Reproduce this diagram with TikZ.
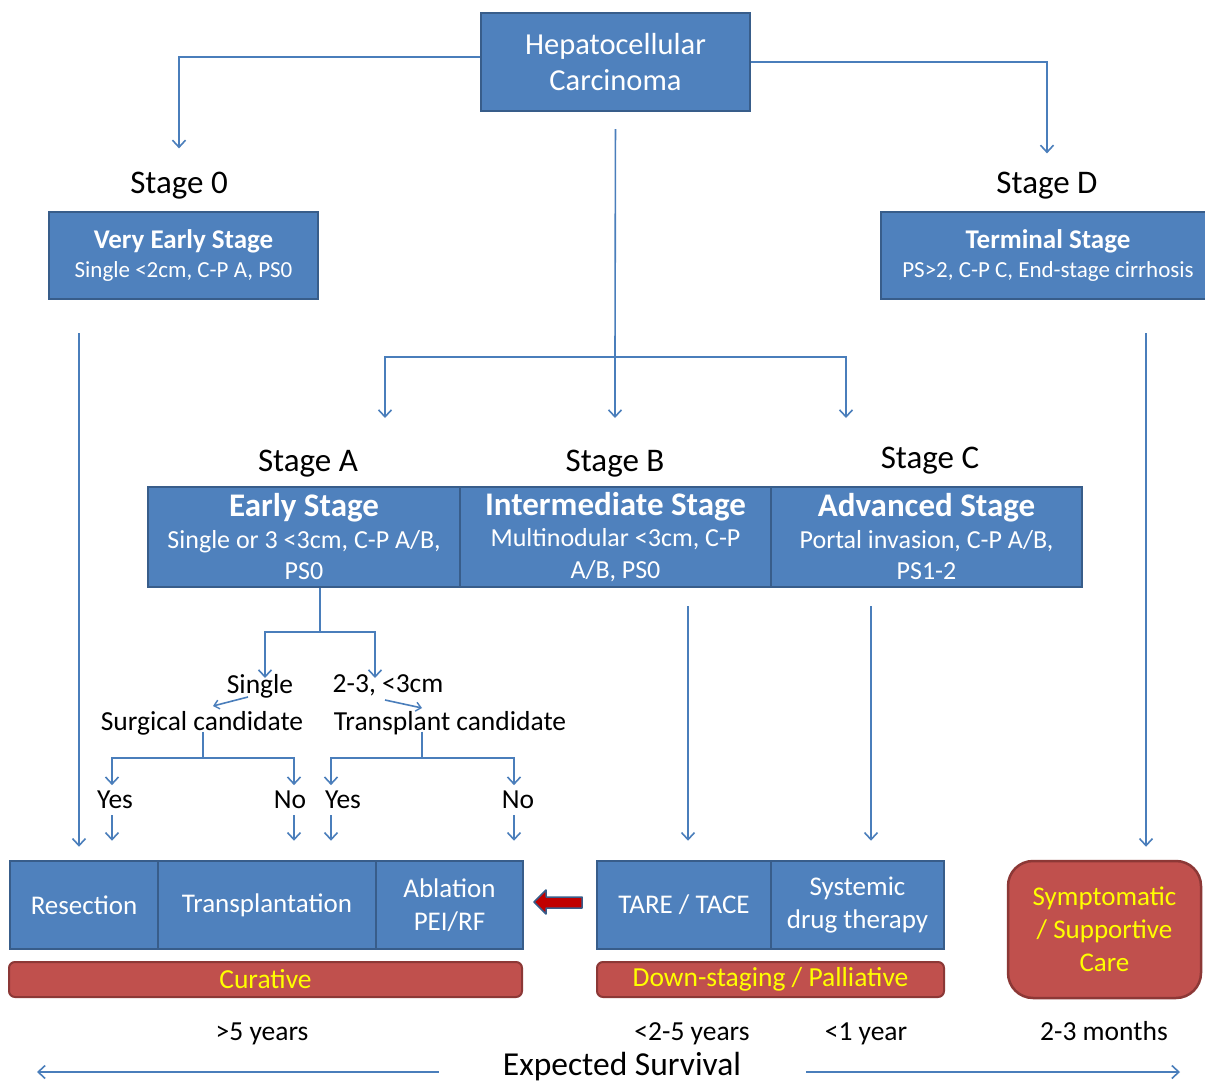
\documentclass[tikz,border=0pt]{standalone}
\usepackage{fontspec}
\setmainfont{Carlito}
\usetikzlibrary{arrows.meta,calc}
\definecolor{boxblue}{HTML}{4F81BD}
\definecolor{boxedge}{HTML}{385D8A}
\definecolor{linkblue}{HTML}{4A7EBB}
\definecolor{redfill}{HTML}{C0504D}
\definecolor{rededge}{HTML}{8C3836}
\definecolor{darkred}{HTML}{C00000}
\definecolor{yel}{HTML}{FFFF00}
\begin{document}
\begin{tikzpicture}[x=1pt,y=-1pt,
  bluebox/.style={draw=boxedge, fill=boxblue, line width=2.5pt, text=white, align=center, inner sep=0pt},
  redbar/.style={draw=rededge, fill=redfill, line width=2pt, text=yel, align=center, inner sep=0pt, rounded corners=6pt, font=\fontsize{27.5}{30}\selectfont},
  wire/.style={draw=linkblue, line width=1.6pt},
  conn/.style={wire, -{Straight Barb[length=7pt,width=13pt,line width=1.6pt]}},
  smallconn/.style={wire, -{Straight Barb[length=5pt,width=9pt,line width=1.4pt]}},
  lab/.style={anchor=base, inner sep=0pt, font=\fontsize{33}{38}\selectfont},
  sublab/.style={anchor=base, inner sep=0pt, font=\fontsize{27.5}{32}\selectfont}
]
\useasboundingbox (0,0) rectangle (1205,1083);
\fill[white] (0,0) rectangle (1205,1083);

% top
\node[bluebox, minimum width=269pt, minimum height=98pt, font=\fontsize{30.5}{36}\selectfont] (hcc) at (615.5,62) {Hepatocellular\\Carcinoma};

\node[lab] (s0lab) at (179,194) {Stage 0};
\node[lab] (sDlab) at (1047,194) {Stage D};

\node[bluebox, minimum width=269pt, minimum height=87pt, font=\fontsize{23}{29}\selectfont] (s0) at (183.5,255.5)
  {{\bfseries\fontsize{27}{29}\selectfont Very Early Stage}\\Single <2cm, C-P A, PS0};
\node[bluebox, minimum width=334pt, minimum height=87pt, font=\fontsize{23}{29}\selectfont] (sD) at (1048,255.5)
  {{\bfseries\fontsize{27}{29}\selectfont Terminal Stage}\\PS>2, C-P C, End-stage cirrhosis};

\draw[conn, shorten >=24pt] ([yshift=5pt]hcc.west) -| (s0lab.north);
\draw[conn, shorten >=19pt] (hcc.east) -| (sDlab.north);

\coordinate (hub) at (615,357);
\coordinate (tA) at (385,418);
\coordinate (tB) at (615,418);
\coordinate (tC) at (846,418);
\draw[wire, shorten <=17pt] (hcc.south) -- (hub);
\draw[conn] (hub) -| (tA);
\draw[conn] (hub) -- (tB);
\draw[conn] (hub) -| (tC);

\node[lab] (sAlab) at (308,471) {Stage A};
\node[lab] (sBlab) at (615,471) {Stage B};
\node[lab] (sClab) at (930,468) {Stage C};

\node[bluebox, minimum width=312pt, minimum height=100pt, font=\fontsize{26}{31.5}\selectfont] (early) at (304,537)
  {{\fontsize{33}{33}\selectfont\bfseries Early Stage}\\Single or 3 <3cm, C-P A/B,\\PS0};
\node[bluebox, minimum width=311pt, minimum height=100pt, font=\fontsize{26}{31.5}\selectfont] (inter) at (615.5,537)
  {{\fontsize{33}{33}\selectfont\bfseries Intermediate Stage}\\Multinodular <3cm, C-P\\A/B, PS0};
\node[bluebox, minimum width=311pt, minimum height=100pt, font=\fontsize{26}{31.5}\selectfont] (adv) at (926.5,537)
  {{\fontsize{33}{33}\selectfont\bfseries Advanced Stage}\\Portal invasion, C-P A/B,\\PS1-2};

% early branch
\coordinate (e1) at (320,632);
\coordinate (tS) at (265,678);
\coordinate (tT) at (375,678);
\draw[wire] (early.south -| e1) -- (e1);
\draw[conn] (e1) -| (tS);
\draw[conn] (e1) -| (tT);

\node[sublab] (single) at (260,693) {Single};
\node[sublab] (twothree) at (388,692) {2-3, <3cm};
\node[sublab] (surg) at (202,730) {Surgical candidate};
\node[sublab] (trans) at (450,730) {Transplant candidate};

\draw[smallconn] ($(single.base)+(-12,4)$) -- ($(single.base)+(-47,13)$);
\draw[smallconn] ($(twothree.base)+(-3,8)$) -- ($(twothree.base)+(34,16)$);

\node[sublab] (yes1) at (115,808) {Yes};
\node[sublab] (no1) at (290,808) {No};
\node[sublab] (yes2) at (343,808) {Yes};
\node[sublab] (no2) at (518,808) {No};

\coordinate (sj) at (203,758);
\coordinate (tj) at (422,758);
\coordinate (cY1) at (112,0);
\coordinate (cN1) at (294,0);
\coordinate (cY2) at (331,0);
\coordinate (cN2) at (514,0);
\draw[wire, shorten <=-3pt] (surg.south -| sj) -- (sj);
\draw[wire, shorten <=-3pt] (trans.south -| tj) -- (tj);
\draw[conn, shorten >=5pt] (sj) -| (yes1.north -| cY1);
\draw[conn, shorten >=5pt] (sj) -| (no1.north -| cN1);
\draw[conn, shorten >=5pt] (tj) -| (yes2.north -| cY2);
\draw[conn, shorten >=5pt] (tj) -| (no2.north -| cN2);

% bottom boxes
\node[bluebox, minimum width=148pt, minimum height=88pt, font=\fontsize{27}{33}\selectfont] (res) at (84,905) {Resection};
\node[bluebox, minimum width=218pt, minimum height=88pt, font=\fontsize{27}{33}\selectfont] (transp) at (267,905) {Transplantation};
\node[bluebox, minimum width=147pt, minimum height=88pt, font=\fontsize{27}{33}\selectfont] (abl) at (449.5,905) {Ablation\\PEI/RF};
\node[bluebox, minimum width=174pt, minimum height=88pt, font=\fontsize{27}{33}\selectfont] (tare) at (684,905) {TARE / TACE};
\node[bluebox, minimum width=173pt, minimum height=88pt, font=\fontsize{27}{33}\selectfont] (sys) at (857.5,905) {Systemic\\drug therapy};

\node[redbar, minimum width=513pt, minimum height=35pt] (cur) at (265.5,979.5) {Curative};
\node[redbar, minimum width=347pt, minimum height=35pt] (pal) at (770.5,979.5) {Down-staging / Palliative};
\node[redbar, rounded corners=25pt, line width=2.5pt, minimum width=193pt, minimum height=137pt, font=\fontsize{27}{33}\selectfont] (symp) at (1104.5,929.5) {Symptomatic\\/ Supportive\\Care};

% arrows into bottom boxes
\draw[conn, shorten <=7pt, shorten >=19pt] (yes1.south -| cY1) -- (res.north -| cY1);
\draw[conn, shorten <=7pt, shorten >=19pt] (no1.south -| cN1) -- (transp.north -| cN1);
\draw[conn, shorten <=7pt, shorten >=19pt] (yes2.south -| cY2) -- (transp.north -| cY2);
\draw[conn, shorten <=7pt, shorten >=19pt] (no2.south -| cN2) -- (abl.north -| cN2);

\coordinate (c0) at (79,0);
\coordinate (cD) at (1146,0);
\coordinate (cI) at (688,0);
\coordinate (cA) at (871,0);
\draw[conn, shorten <=33pt, shorten >=13pt] (s0.south -| c0) -- (res.north -| c0);
\draw[conn, shorten <=33pt, shorten >=13pt] (sD.south -| cD) -- (symp.north -| cD);
\draw[conn, shorten <=18pt, shorten >=19pt] (inter.south -| cI) -- (tare.north -| cI);
\draw[conn, shorten <=18pt, shorten >=19pt] (adv.south -| cA) -- (sys.north -| cA);

% red block arrow
\draw[draw=boxedge, fill=darkred, line width=1.5pt, line join=round]
  (534,902) -- (546,890) -- (546,897) -- (582,897) -- (582,908) -- (546,908) -- (546,914) -- cycle;

% survival
\node[sublab] (y5) at (262,1040) {>5 years};
\node[sublab] (y25) at (692,1040) {<2-5 years};
\node[sublab] (y1) at (866,1040) {<1 year};
\node[sublab] (m23) at (1104,1040) {2-3 months};
\node[anchor=base, inner sep=0pt, font=\fontsize{33.5}{38}\selectfont] (surv) at (622,1075) {Expected Survival};
\coordinate (sl) at (37,1072);
\coordinate (sr) at (1180,1072);
\draw[conn, shorten <=64pt] (surv.west |- sl) -- (sl);
\draw[conn, shorten <=65pt] (surv.east |- sr) -- (sr);
\end{tikzpicture}
\end{document}
